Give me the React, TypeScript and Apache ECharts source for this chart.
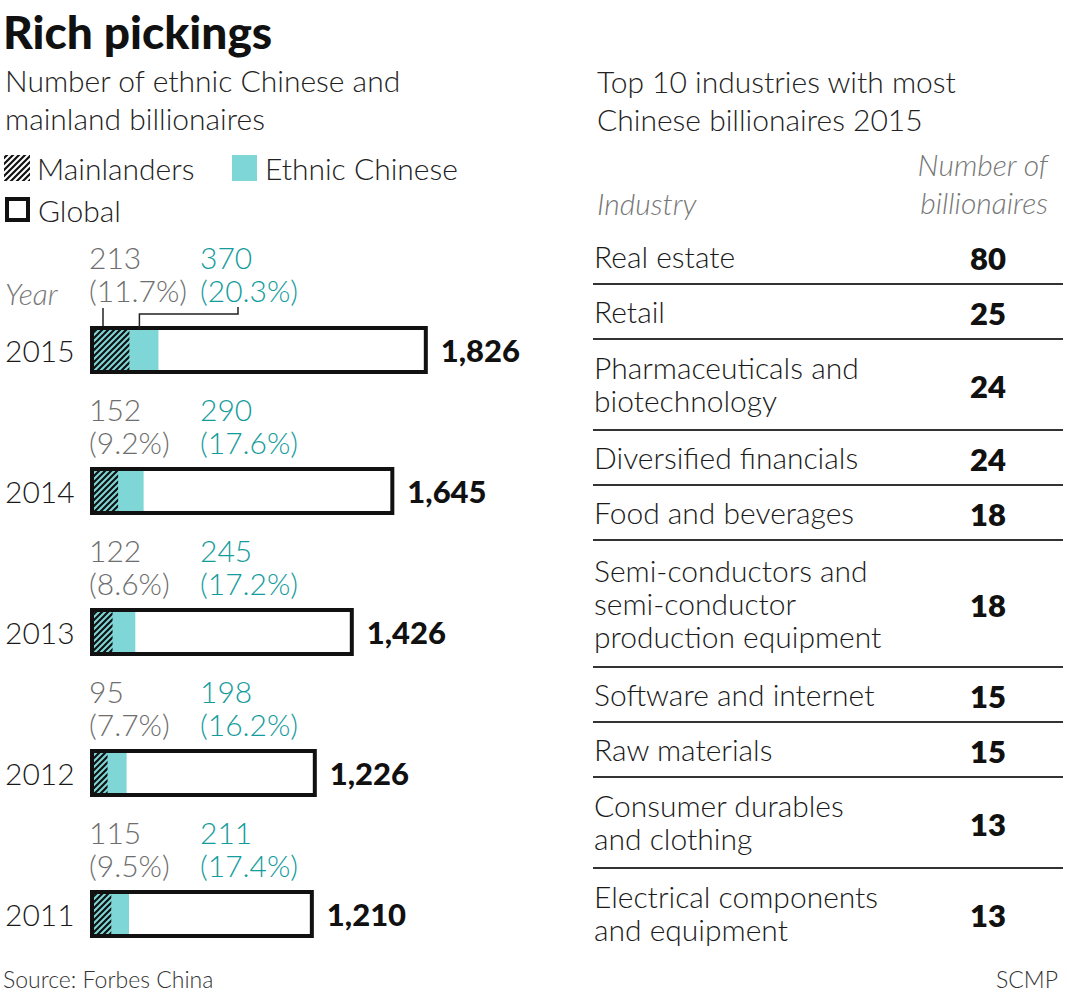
import React, { useEffect, useRef } from "react";
import * as echarts from "echarts";

// ---------- data ----------
const years = ["2015", "2014", "2013", "2012", "2011"];
const mainlanders = [213, 152, 122, 95, 115];
const ethnicChinese = [370, 290, 245, 198, 211];
const globalTotal = [1826, 1645, 1426, 1226, 1210];

const industries = [
  "Real estate",
  "Retail",
  "Pharmaceuticals and\nbiotechnology",
  "Diversified financials",
  "Food and beverages",
  "Semi-conductors and\nsemi-conductor\nproduction equipment",
  "Software and internet",
  "Raw materials",
  "Consumer durables\nand clothing",
  "Electrical components\nand equipment",
];
const industryCounts = [80, 25, 24, 24, 18, 18, 15, 15, 13, 13];

// ---------- styles ----------
const FONT = "Lato, 'Open Sans', 'Noto Sans', sans-serif";
const LIGHT = 300;
const CYAN = "#7fd6d6";
const TEAL = "#149c9c";
const GREY = "#6e6e6e";
const INK = "#111111";

function hatch(bg: string) {
  const s = 6;
  const c = document.createElement("canvas");
  c.width = s;
  c.height = s;
  const ctx = c.getContext("2d")!;
  ctx.fillStyle = bg;
  ctx.fillRect(0, 0, s, s);
  ctx.strokeStyle = INK;
  ctx.lineWidth = 2.2;
  ctx.beginPath();
  for (const o of [-s, 0, s]) {
    ctx.moveTo(o - 1, s + 1);
    ctx.lineTo(o + s + 1, -1);
  }
  ctx.stroke();
  return { image: c, repeat: "repeat" } as any;
}

const pct = (a: number, b: number) => ((a / b) * 100).toFixed(1);

function txt(x: number, y: number, text: string, o: any = {}) {
  return {
    type: "text",
    x,
    y,
    silent: true,
    style: {
      text,
      fontFamily: FONT,
      fontSize: 30,
      fontWeight: LIGHT,
      fill: "#1a1a1a",
      align: "left",
      verticalAlign: "middle",
      lineHeight: 33,
      ...o,
    },
  };
}

export default function App() {
  const ref = useRef<HTMLDivElement>(null);

  useEffect(() => {
    if (!ref.current) return;
    const chart = echarts.init(ref.current, undefined, { renderer: "svg" });

    const barW = 48;
    const labelBase = {
      show: true,
      fontFamily: FONT,
      fontSize: 30,
      fontWeight: LIGHT,
      lineHeight: 33,
      align: "left",
      verticalAlign: "bottom",
    };

    const option: any = {
      animation: false,
      backgroundColor: "#ffffff",
      grid: { left: 90, top: 279.5, width: 370, height: 705 },
      xAxis: { type: "value", min: 0, max: 2000, show: false },
      yAxis: {
        type: "category",
        data: years,
        inverse: true,
        axisLine: { show: false },
        axisTick: { show: false },
        splitLine: { show: false },
        axisLabel: {
          margin: 85,
          align: "left",
          fontFamily: FONT,
          fontSize: 30,
          fontWeight: LIGHT,
          color: "#1a1a1a",
        },
      },
      series: [
        {
          type: "bar",
          name: "Ethnic Chinese",
          barWidth: barW,
          barGap: "-100%",
          silent: true,
          itemStyle: { color: CYAN },
          label: {
            ...labelBase,
            color: TEAL,
            formatter: (p: any) =>
              `${p.value}\n(${pct(p.value, globalTotal[p.dataIndex])}%)`,
          },
          data: ethnicChinese.map((v, i) => ({
            value: v,
            label: { position: [110, i === 0 ? -20 : -9] },
          })),
        },
        {
          type: "bar",
          name: "Mainlanders",
          barWidth: barW,
          barGap: "-100%",
          silent: true,
          itemStyle: { color: hatch(CYAN) },
          label: {
            ...labelBase,
            color: GREY,
            formatter: (p: any) =>
              `${p.value}\n(${pct(p.value, globalTotal[p.dataIndex])}%)`,
          },
          data: mainlanders.map((v, i) => ({
            value: v,
            label: { position: [-1, i === 0 ? -20 : -9] },
          })),
        },
        {
          type: "bar",
          name: "Global",
          barWidth: barW,
          barGap: "-100%",
          silent: true,
          z: 5,
          itemStyle: {
            color: "rgba(255,255,255,0)",
            borderColor: INK,
            borderWidth: 4,
          },
          label: {
            show: true,
            position: "right",
            distance: 13,
            fontFamily: FONT,
            fontSize: 31,
            fontWeight: 900,
            color: INK,
            formatter: (p: any) => Number(p.value).toLocaleString("en-US"),
          },
          data: globalTotal,
        },
      ],
    };

    chart.setOption(option);

    // ----- leader lines for first year, positioned via the chart's scales -----
    const yc = chart.convertToPixel({ yAxisIndex: 0 }, years[0]) as number;
    const x0 = chart.convertToPixel({ xAxisIndex: 0 }, 0) as number;
    const xm = chart.convertToPixel({ xAxisIndex: 0 }, mainlanders[0]) as number;
    const barTop = yc - barW / 2 - 2;

    const graphics: any[] = [];
    graphics.push({
      type: "line",
      silent: true,
      z: 10,
      shape: { x1: x0 + 13, y1: barTop - 16, x2: x0 + 13, y2: barTop + 2 },
      style: { stroke: "#222", lineWidth: 1.5 },
    });
    graphics.push({
      type: "polyline",
      silent: true,
      z: 10,
      shape: {
        points: [
          [x0 + 148, barTop - 17],
          [x0 + 148, barTop - 10],
          [xm + 10, barTop - 10],
          [xm + 10, barTop + 5],
        ],
      },
      style: { stroke: "#222", lineWidth: 1.5, fill: null },
    });

    // ----- titles -----
    graphics.push(
      txt(3, 31, "Rich pickings", { fontSize: 46, fontWeight: 900, fill: INK })
    );
    graphics.push(
      txt(5, 99, "Number of ethnic Chinese and\nmainland billionaires", {
        lineHeight: 38,
        fill: "#222",
      })
    );
    graphics.push(
      txt(597, 100, "Top 10 industries with most\nChinese billionaires 2015", {
        lineHeight: 38,
        fill: "#222",
      })
    );

    // ----- legend -----
    graphics.push({
      type: "rect",
      silent: true,
      shape: { x: 4, y: 155, width: 26, height: 26 },
      style: { fill: hatch("#ffffff") },
    });
    graphics.push(txt(37, 168, "Mainlanders", { fill: "#222" }));
    graphics.push({
      type: "rect",
      silent: true,
      shape: { x: 232, y: 155, width: 25, height: 26 },
      style: { fill: CYAN },
    });
    graphics.push(txt(265, 168, "Ethnic Chinese", { fill: "#222" }));
    graphics.push({
      type: "rect",
      silent: true,
      shape: { x: 7, y: 199, width: 21, height: 21 },
      style: { fill: "none", stroke: INK, lineWidth: 4 },
    });
    graphics.push(txt(38, 210, "Global", { fill: "#222" }));

    graphics.push(txt(5, 293, "Year", { fontStyle: "italic", fill: "#777" }));

    // ----- table -----
    graphics.push(
      txt(597, 203, "Industry", { fontStyle: "italic", fill: "#777" })
    );
    graphics.push(
      txt(1048, 183, "Number of\nbillionaires", {
        fontStyle: "italic",
        fill: "#777",
        align: "right",
        lineHeight: 38,
      })
    );

    let top = 229;
    industries.forEach((name, i) => {
      const lines = name.split("\n").length;
      const h = 19 + 36 * lines;
      const mid = top + h / 2;
      graphics.push(txt(594, mid - 1, name, { fill: "#1a1a1a" }));
      graphics.push(
        txt(1006, mid + 1, String(industryCounts[i]), {
          align: "right",
          fontWeight: 800,
          fontSize: 31,
          fill: INK,
        })
      );
      top += h;
      if (i < industries.length - 1) {
        graphics.push({
          type: "line",
          silent: true,
          shape: { x1: 593, y1: top, x2: 1063, y2: top },
          style: { stroke: "#333", lineWidth: 2 },
        });
      }
    });

    // ----- footer -----
    graphics.push(
      txt(3, 979, "Source: Forbes China", { fontSize: 23, fill: "#333" })
    );
    graphics.push(
      txt(1058, 979, "SCMP", { fontSize: 23, fill: "#333", align: "right" })
    );

    chart.setOption({ graphic: graphics });

    return () => chart.dispose();
  }, []);

  return (
    <>
      <style>{`body{margin:0;background:#fff}`}</style>
      <div ref={ref} style={{ width: 1067, height: 996 }} />
    </>
  );
}
